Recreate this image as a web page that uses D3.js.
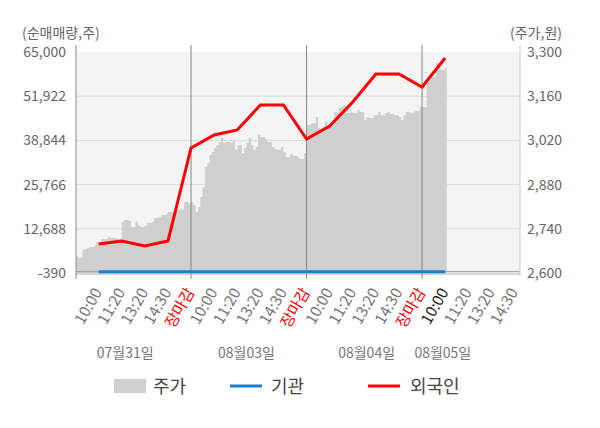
<!DOCTYPE html>
<html>
<head>
<meta charset="utf-8">
<script src="https://cdn.jsdelivr.net/npm/d3@7"></script>
<style>
  body { margin: 0; background: #fff; }
  svg { font-family: "Noto Sans CJK KR", "Noto Sans", sans-serif; }
</style>
</head>
<body>
<svg class="chart" width="600" height="428"></svg>
<script>
// dates and intraday label slots
const days = ['07월31일', '08월03일', '08월04일', '08월05일'];
const dayLabelSlot = [2.15, 7.4, 12.6, 15.9];
const timeLabels = ['10:00', '11:20', '13:20', '14:30', '장마감'];

// price (주가), sampled every 0.1 label slot, one array per day
const priceDay1 = [2654, 2648, 2648, 2673, 2676, 2679, 2682, 2682, 2686, 2698,
  2698, 2708, 2708, 2708, 2714, 2711, 2711, 2711, 2708, 2708,
  2762, 2768, 2768, 2765, 2746, 2746, 2762, 2752, 2746, 2746,
  2749, 2758, 2758, 2762, 2774, 2774, 2777, 2784, 2784, 2787,
  2793, 2793, 2793, 2793, 2800, 2800, 2800, 2825, 2825, 2819];
const priceDay2 = [2825, 2815, 2793, 2809, 2841, 2872, 2936, 2948, 2974, 2983,
  2996, 3005, 3015, 3028, 3012, 3015, 3015, 3012, 3021, 2990,
  3005, 3005, 2980, 2996, 3012, 3028, 3005, 2990, 2999, 3037,
  3031, 3031, 3024, 3015, 3015, 2999, 2993, 2990, 2990, 2999,
  2983, 2967, 2967, 2977, 2971, 2971, 2967, 2961, 2961, 2980];
const priceDay3 = [3069, 3069, 3075, 3075, 3094, 3059, 3053, 3062, 3081, 3059,
  3069, 3069, 3110, 3107, 3123, 3126, 3132, 3107, 3107, 3110,
  3107, 3107, 3116, 3110, 3110, 3085, 3094, 3091, 3091, 3100,
  3100, 3110, 3100, 3100, 3107, 3110, 3104, 3104, 3100, 3100,
  3094, 3085, 3100, 3110, 3110, 3107, 3110, 3113, 3113, 3126];
const priceDay4 = [3126, 3126, 3205, 3211, 3221, 3221, 3265, 3252, 3243, 3243, 3249];

// net buying volume at each label slot (10:00 day1 .. 10:00 day4)
const foreign = [8190, 9078, 7599, 9078, 36595, 40442, 41922, 49319, 49319,
  39258, 43105, 50206, 58491, 58491, 54644, 63225];
const institution = [0, 0, 0, 0, 0, 0, 0, 0, 0, 0, 0, 0, 0, 0, 0, 0];

const leftTicks = [-390, 12688, 25766, 38844, 51922, 65000];
const rightTicks = [2600, 2740, 2880, 3020, 3160, 3300];

const svg = d3.select('svg.chart');
const L = 76, R = 520, T = 52, B = 273;

const x = d3.scaleLinear().domain([0.02, 19.24]).range([L, R]);
const yL = d3.scaleLinear().domain([-390, 65000]).range([B, T]);
const yR = d3.scaleLinear().domain([2600, 3300]).range([B, T]);
const fmt = d => d3.format(',')(d).replace('\u2212', '-');

// plot background
svg.append('rect')
  .attr('x', L).attr('y', T)
  .attr('width', R - L).attr('height', B - T)
  .attr('fill', '#f4f4f4');

// horizontal grid
svg.append('g').selectAll('line')
  .data(leftTicks.slice(1, -1))
  .join('line')
  .attr('x1', L).attr('x2', R)
  .attr('y1', d => yL(d)).attr('y2', d => yL(d))
  .attr('stroke', '#dcdcdc').attr('stroke-width', 1);

// price area
const price = [];
[priceDay1, priceDay2, priceDay3, priceDay4].forEach((arr, d) => {
  arr.forEach((v, i) => price.push({ s: d * 5 + i * 0.1, v: v }));
});
price[0].s = 0.02;
const area = d3.area()
  .x(d => x(d.s))
  .y0(B)
  .y1(d => yR(d.v))
  .curve(d3.curveStepAfter);
svg.append('path')
  .datum(price.concat([{ s: 16.07, v: price[price.length - 1].v }]))
  .attr('d', area)
  .attr('fill', '#cfcfcf');

// day separators
svg.append('g').selectAll('line')
  .data([5, 10, 15])
  .join('line')
  .attr('x1', d => x(d)).attr('x2', d => x(d))
  .attr('y1', 45).attr('y2', 279)
  .attr('stroke', '#888').attr('stroke-width', 1);

// zero line and bottom axis line
svg.append('line')
  .attr('x1', L).attr('x2', R)
  .attr('y1', yL(0)).attr('y2', yL(0))
  .attr('stroke', '#999');
svg.append('line')
  .attr('x1', L).attr('x2', R)
  .attr('y1', B + 1).attr('y2', B + 1)
  .attr('stroke', '#aaa');

// left and right axis lines
svg.append('line')
  .attr('x1', L).attr('x2', L).attr('y1', 45).attr('y2', 279)
  .attr('stroke', '#888');
svg.append('line')
  .attr('x1', R).attr('x2', R).attr('y1', 45).attr('y2', 276)
  .attr('stroke', '#ccc');

// institution and foreign lines
const lineL = d3.line().x((d, i) => x(i + 1)).y(d => yL(d));
svg.append('path')
  .datum(institution)
  .attr('d', lineL)
  .attr('fill', 'none')
  .attr('stroke', '#1a7fcc')
  .attr('stroke-width', 3);
svg.append('path')
  .datum(foreign)
  .attr('d', lineL)
  .attr('fill', 'none')
  .attr('stroke', '#ff0000')
  .attr('stroke-width', 3);

// y axes
const axL = svg.append('g')
  .attr('transform', `translate(${L - 10},0)`)
  .call(d3.axisLeft(yL).tickValues(leftTicks).tickSize(0).tickFormat(fmt));
const axR = svg.append('g')
  .attr('transform', `translate(${R + 7},0)`)
  .call(d3.axisRight(yR).tickValues(rightTicks).tickSize(0).tickFormat(fmt));
[axL, axR].forEach(ax => {
  ax.select('.domain').remove();
  ax.selectAll('text')
    .attr('font-size', 14)
    .attr('fill', '#666')
    .attr('font-family', '"Noto Sans CJK KR", "Noto Sans", sans-serif');
});
axL.selectAll('text').attr('x', 0);
axR.selectAll('text').attr('x', 0);

svg.append('text')
  .attr('x', 22).attr('y', 38)
  .attr('font-size', 14).attr('fill', '#666')
  .text('(순매매량,주)');
svg.append('text')
  .attr('x', 562).attr('y', 38)
  .attr('text-anchor', 'end')
  .attr('font-size', 14).attr('fill', '#666')
  .text('(주가,원)');

// x tick labels (rotated)
const ticks = [];
for (let d = 0; d < 4; d++) {
  timeLabels.forEach((t, i) => {
    const s = d * 5 + i + 1;
    if (s <= 19) ticks.push({ s: s, t: t, current: d === 3 && i === 0 });
  });
}
svg.append('g').selectAll('text')
  .data(ticks)
  .join('text')
  .attr('transform', d => `translate(${x(d.s) + 4},292) rotate(-60)`)
  .attr('text-anchor', 'end')
  .attr('font-size', 15.5)
  .attr('fill', d => d.t === '장마감' ? '#ff0000' : (d.current ? '#222' : '#777'))
  .text(d => d.t);

// date labels
svg.append('g').selectAll('text')
  .data(days)
  .join('text')
  .attr('x', (d, i) => x(dayLabelSlot[i]))
  .attr('y', 358)
  .attr('text-anchor', 'middle')
  .attr('font-size', 14)
  .attr('fill', '#777')
  .text(d => d);

// legend
const lg = svg.append('g').attr('font-size', 18).attr('fill', '#444');
lg.append('rect').attr('x', 114).attr('y', 379).attr('width', 32).attr('height', 14).attr('fill', '#cfcfcf');
lg.append('text').attr('x', 153).attr('y', 393).text('주가');
lg.append('line').attr('x1', 230).attr('x2', 262).attr('y1', 386).attr('y2', 386)
  .attr('stroke', '#1a7fcc').attr('stroke-width', 3);
lg.append('text').attr('x', 271).attr('y', 393).text('기관');
lg.append('line').attr('x1', 368).attr('x2', 400).attr('y1', 386).attr('y2', 386)
  .attr('stroke', '#ff0000').attr('stroke-width', 3);
lg.append('text').attr('x', 410).attr('y', 393).text('외국인');
</script>
</body>
</html>
